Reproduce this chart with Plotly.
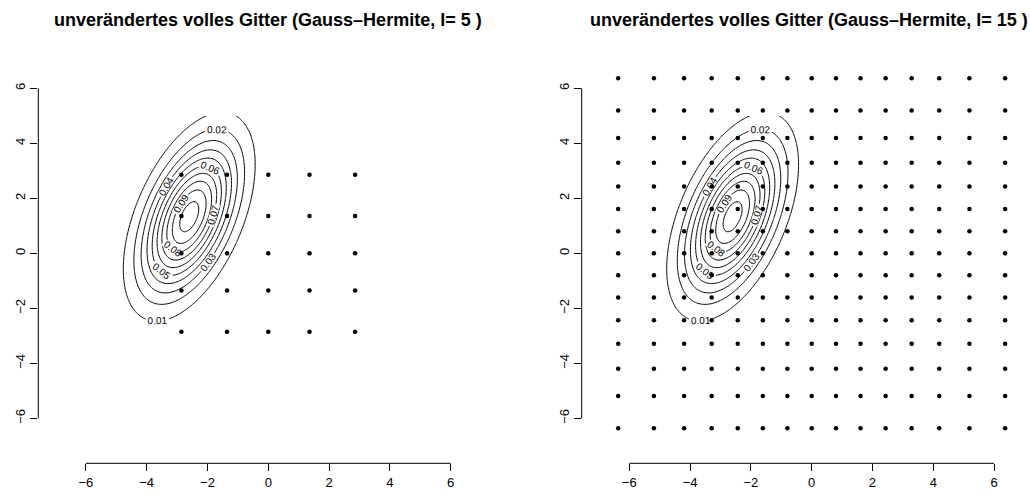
import numpy as np
import plotly.graph_objects as go

# ---- data ----
titles = ["unverändertes volles Gitter (Gauss\u2013Hermite, l= 5 )",
          "unverändertes volles Gitter (Gauss\u2013Hermite, l= 15 )"]
# Gauss-Hermite nodes (scaled)
gh5 = [-2.857, -1.356, 0.0, 1.356, 2.857]
gh15 = [-6.364, -5.190, -4.196, -3.289, -2.432, -1.607, -0.799, 0.0,
        0.799, 1.607, 2.432, 3.289, 4.196, 5.190, 6.364]
tick_vals = [-6, -4, -2, 0, 2, 4, 6]
tick_text = ["\u22126", "\u22124", "\u22122", "0", "2", "4", "6"]
labelled_levels = [0.01, 0.09, 0.01]   # start, end, step
unlabelled_level = 0.10                # innermost ring, too small for a label
# density parameters (bivariate normal)
mu_x, mu_y = -2.6, 1.33
sd_x, sd_y = 1.0, 1.75
rho = 0.5
grid_x_lim = [-6.0, 6.0]
grid_y_lim = [-6.0, 5.0]

# ---- density surface ----
gx = np.linspace(grid_x_lim[0], grid_x_lim[1], 241)
gy = np.linspace(grid_y_lim[0], grid_y_lim[1], 221)
X, Y = np.meshgrid(gx, gy)
zx = (X - mu_x) / sd_x
zy = (Y - mu_y) / sd_y
q = (zx**2 - 2 * rho * zx * zy + zy**2) / (1 - rho**2)
Z = np.exp(-q / 2) / (2 * np.pi * sd_x * sd_y * np.sqrt(1 - rho**2))

W, H = 1030, 494
FONT = "Liberation Sans, Arial, sans-serif"

fig = go.Figure()
for i, nodes in enumerate([gh5, gh15]):
    xa = "x" if i == 0 else "x2"
    ya = "y" if i == 0 else "y2"
    fig.add_trace(go.Contour(
        x=gx, y=gy, z=Z, xaxis=xa, yaxis=ya,
        contours=dict(start=labelled_levels[0], end=labelled_levels[1],
                      size=labelled_levels[2], coloring="none",
                      showlabels=True,
                      labelfont=dict(size=10, color="black", family=FONT)),
        showscale=False, line=dict(width=1, color="black"),
        hoverinfo="skip"))
    fig.add_trace(go.Contour(
        x=gx, y=gy, z=Z, xaxis=xa, yaxis=ya,
        contours=dict(start=unlabelled_level, end=unlabelled_level,
                      size=0.01, coloring="none", showlabels=False),
        showscale=False, line=dict(width=1, color="black"),
        hoverinfo="skip"))
    px_, py_ = np.meshgrid(nodes, nodes)
    fig.add_trace(go.Scatter(
        x=px_.ravel(), y=py_.ravel(), mode="markers", xaxis=xa, yaxis=ya,
        marker=dict(size=4.5, color="black"), hoverinfo="skip",
        showlegend=False))

ppu_x = 30.4
y_dom = [1 - 463.3 / H, 1 - 43.3 / H]
y_rng = [-7.636, 7.636]

left0 = 38.3
right0 = 581.7
x_rng1 = [-7.565, 7.565]
x_dom1 = [left0 / W, (left0 + (x_rng1[1] - x_rng1[0]) * ppu_x) / W]
x_rng2 = [-7.565, -7.565 + (W - right0) / ppu_x]
x_dom2 = [right0 / W, 1.0]

axis_common = dict(showgrid=False, zeroline=False, showline=False,
                   ticks="outside", ticklen=7, tickwidth=1, tickcolor="black",
                   tickvals=tick_vals, ticktext=tick_text,
                   tickfont=dict(size=13, color="black", family=FONT),
                   fixedrange=True)

fig.update_layout(
    width=W, height=H, margin=dict(l=0, r=0, t=0, b=0),
    paper_bgcolor="white", plot_bgcolor="white", showlegend=False,
    xaxis=dict(domain=x_dom1, range=x_rng1, anchor="y", **axis_common),
    yaxis=dict(domain=y_dom, range=y_rng, anchor="x", tickangle=-90,
               **axis_common),
    xaxis2=dict(domain=x_dom2, range=x_rng2, anchor="y2", **axis_common),
    yaxis2=dict(domain=y_dom, range=y_rng, anchor="x2", tickangle=-90,
                **axis_common),
)

shapes = []
for xr, yr in [("x", "y"), ("x2", "y2")]:
    shapes.append(dict(type="line", xref=xr, yref=yr + " domain",
                       x0=-6, x1=6, y0=0, y1=0,
                       line=dict(color="black", width=1)))
    shapes.append(dict(type="line", xref=xr + " domain", yref=yr,
                       x0=0, x1=0, y0=-6, y1=6,
                       line=dict(color="black", width=1)))
fig.update_layout(shapes=shapes)

for i, cx in enumerate([268.0, 808.7]):
    fig.add_annotation(text="<b>" + titles[i] + "</b>", xref="paper",
                       yref="paper", x=cx / W, y=1 - 20 / H,
                       xanchor="center", yanchor="middle", showarrow=False,
                       font=dict(size=18, color="black", family=FONT))

fig.write_html("out.html")
